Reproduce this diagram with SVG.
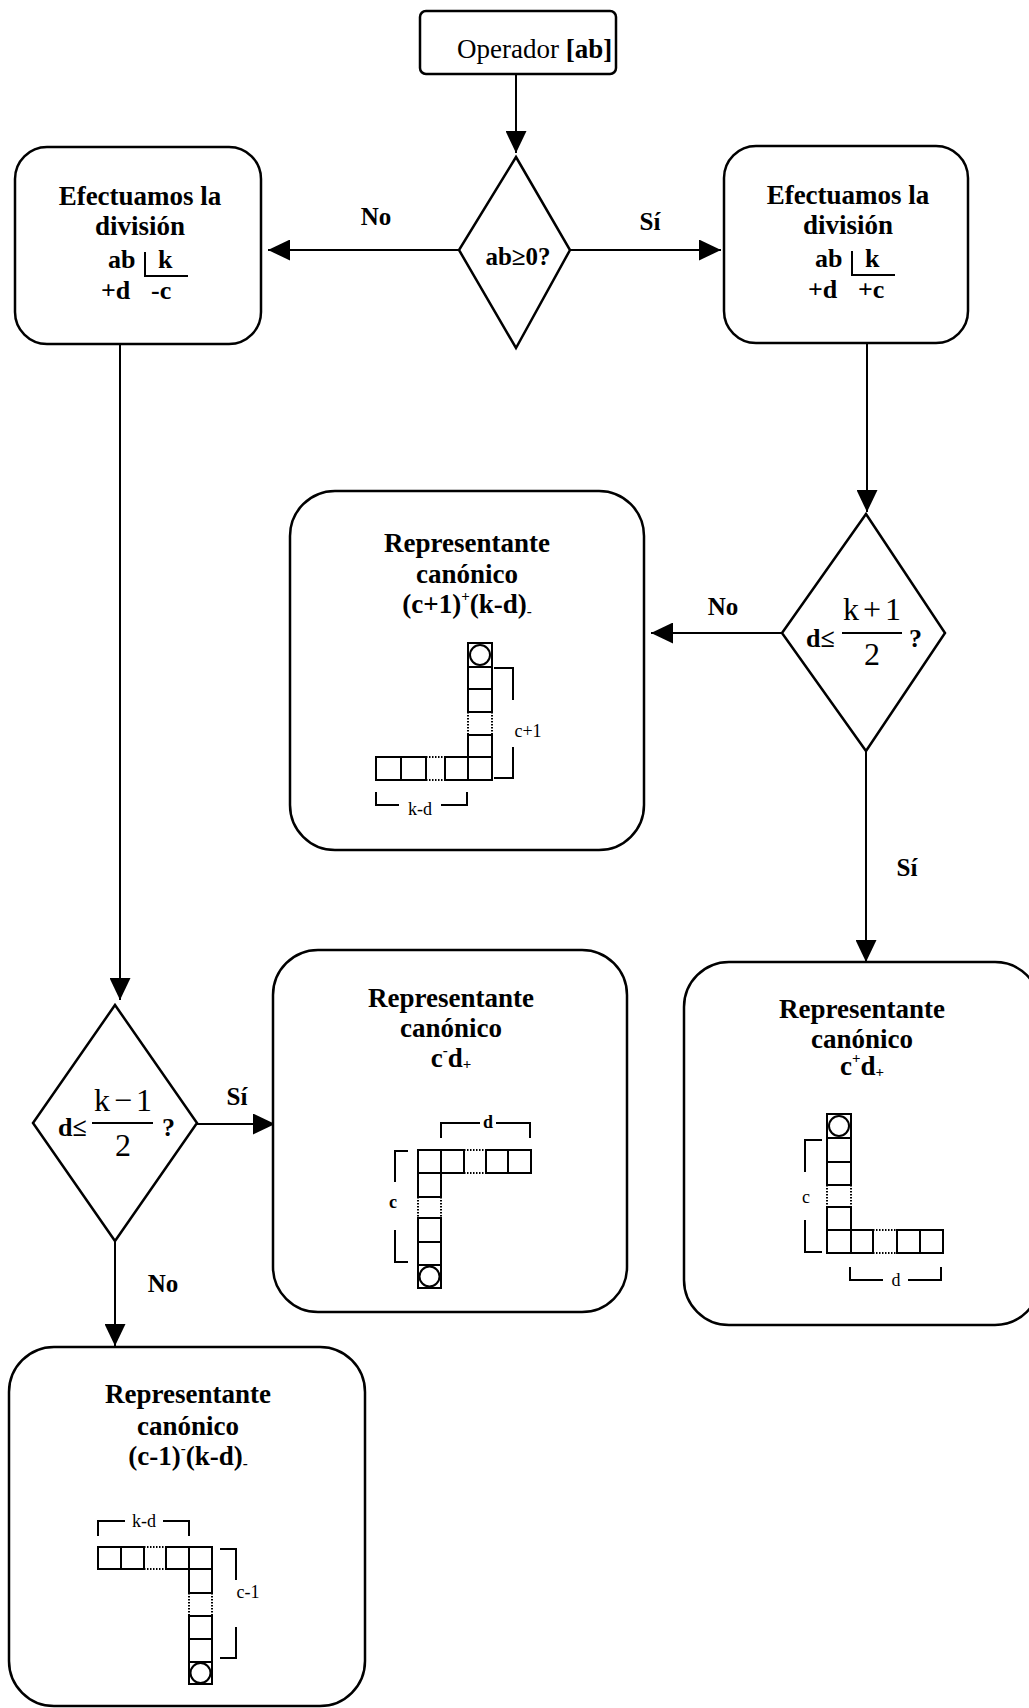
<svg xmlns="http://www.w3.org/2000/svg" width="1029" height="1708" viewBox="0 0 1029 1708">
<defs>
<marker id="ah" viewBox="0 0 22 21" refX="22" refY="10.5" markerWidth="22" markerHeight="21" markerUnits="userSpaceOnUse" orient="auto"><path d="M0,0 L22,10.5 L0,21 z" fill="#000"/></marker>
<style>
.box{fill:#fff;stroke:#000;stroke-width:2.5}
.dia{fill:#fff;stroke:#000;stroke-width:2.5}
.con{stroke:#000;stroke-width:2;fill:none;marker-end:url(#ah)}
.ln{stroke:#000;stroke-width:2;fill:none}
.t{font-family:"Liberation Serif","Times New Roman",serif;fill:#000}
.title{font-size:27px;font-weight:bold;text-anchor:middle}
.lab{font-size:25px;font-weight:bold;text-anchor:middle}
.bt{font-size:26px;font-weight:bold}
.sm{font-size:18px;text-anchor:middle}
.smb{font-size:18px;font-weight:bold;text-anchor:middle}
.frac{font-size:32px;text-anchor:middle}
.sq{fill:none;stroke:#000;stroke-width:2}
.dot{fill:none;stroke:#000;stroke-width:2;stroke-dasharray:1.5 1.5}
</style>
</defs>
<rect width="1029" height="1708" fill="#fff"/>

<g id="connectors">
<path class="con" d="M516,75 V153"/>
<path class="con" d="M459,250 H268"/>
<path class="con" d="M570,250 H721"/>
<path class="con" d="M120,344 V1000"/>
<path class="con" d="M867,343 V512"/>
<path class="con" d="M782,633 H651"/>
<path class="con" d="M866,751 V962"/>
<path class="con" d="M197,1124 H275"/>
<path class="con" d="M115,1241 V1346"/>
<text class="t lab" x="376" y="225">No</text>
<text class="t lab" x="650" y="230">Sí</text>
<text class="t lab" x="723" y="615">No</text>
<text class="t lab" x="907" y="876">Sí</text>
<text class="t lab" x="237" y="1105">Sí</text>
<text class="t lab" x="163" y="1292">No</text>
</g>

<g id="n-operador">
<rect class="box" x="420" y="11" width="196" height="63" rx="6"/>
<text class="t" x="457" y="58" font-size="27">Operador <tspan font-weight="bold">[ab]</tspan></text>
</g>

<g id="n-decision-ab">
<polygon class="dia" points="516,157 570,250 516,348 459,250"/>
<text class="t lab" x="518" y="265" font-size="26">ab≥0?</text>
</g>

<g id="n-division-neg">
<rect class="box" x="15" y="147" width="246" height="197" rx="32"/>
<text class="t title" x="140" y="205">Efectuamos la</text>
<text class="t title" x="140" y="235">división</text>
<text class="t bt" x="108" y="268">ab</text>
<text class="t bt" x="158" y="268">k</text>
<path class="ln" d="M145,252 V276 H188"/>
<text class="t bt" x="101" y="299">+d</text>
<text class="t bt" x="151" y="299">-c</text>
</g>

<g id="n-division-pos">
<rect class="box" x="724" y="146" width="244" height="197" rx="32"/>
<text class="t title" x="848" y="204">Efectuamos la</text>
<text class="t title" x="848" y="234">división</text>
<text class="t bt" x="815" y="267">ab</text>
<text class="t bt" x="865" y="267">k</text>
<path class="ln" d="M852,251 V275 H895"/>
<text class="t bt" x="808" y="298">+d</text>
<text class="t bt" x="858" y="298">+c</text>
</g>

<g id="n-decision-kplus">
<polygon class="dia" points="866,514 945,633 866,751 782,633"/>
<text class="t bt" x="806" y="647" font-size="25">d≤</text>
<text class="t frac" x="872" y="620" textLength="58">k + 1</text>
<path class="ln" d="M842,633 H902"/>
<text class="t frac" x="872" y="665">2</text>
<text class="t bt" x="909" y="647" font-size="25">?</text>
</g>

<g id="n-rep-c1-kd">
<rect class="box" x="290" y="491" width="354" height="359" rx="45"/>
<text class="t title" x="467" y="552">Representante</text>
<text class="t title" x="467" y="583">canónico</text>
<text class="t title" x="467" y="613">(c+1)<tspan font-size="15" dy="-12">+</tspan><tspan dy="12">(k-d)</tspan><tspan font-size="15" dy="3">-</tspan></text>
<rect class="sq" x="468" y="643" width="24" height="24"/>
<circle class="sq" cx="480" cy="655" r="10"/>
<rect class="sq" x="468" y="667" width="24" height="22"/>
<rect class="sq" x="468" y="689" width="24" height="23"/>
<path class="dot" d="M468,712 V735 M492,712 V735"/>
<rect class="sq" x="468" y="735" width="24" height="22"/>
<rect class="sq" x="468" y="757" width="24" height="23"/>
<rect class="sq" x="376" y="757" width="25" height="23"/>
<rect class="sq" x="401" y="757" width="25" height="23"/>
<path class="dot" d="M426,757 H445 M426,780 H445"/>
<rect class="sq" x="445" y="757" width="23" height="23"/>
<path class="ln" d="M494,668 H513 V700 M513,747 V778 H494"/>
<text class="t sm" x="528" y="737">c+1</text>
<path class="ln" d="M376,792 V805 H399 M441,805 H467 V792"/>
<text class="t sm" x="420" y="815">k-d</text>
</g>

<g id="n-rep-c-d-pos">
<rect class="box" x="684" y="962" width="356" height="363" rx="45"/>
<text class="t title" x="862" y="1018">Representante</text>
<text class="t title" x="862" y="1048">canónico</text>
<text class="t title" x="862" y="1075">c<tspan font-size="15" dy="-12">+</tspan><tspan dy="12">d</tspan><tspan font-size="15" dy="2">+</tspan></text>
<rect class="sq" x="827" y="1114" width="24" height="24"/>
<circle class="sq" cx="839" cy="1126" r="10"/>
<rect class="sq" x="827" y="1138" width="24" height="24"/>
<rect class="sq" x="827" y="1162" width="24" height="23"/>
<path class="dot" d="M827,1185 V1207 M851,1185 V1207"/>
<rect class="sq" x="827" y="1207" width="24" height="23"/>
<rect class="sq" x="827" y="1230" width="24" height="23"/>
<rect class="sq" x="851" y="1230" width="22" height="23"/>
<path class="dot" d="M873,1230 H897 M873,1253 H897"/>
<rect class="sq" x="897" y="1230" width="23" height="23"/>
<rect class="sq" x="920" y="1230" width="23" height="23"/>
<path class="ln" d="M822,1140 H805 V1172 M805,1220 V1252 H822"/>
<text class="t sm" x="806" y="1203">c</text>
<path class="ln" d="M850,1267 V1280 H883 M908,1280 H941 V1267"/>
<text class="t sm" x="896" y="1286">d</text>
</g>

<g id="n-decision-kminus">
<polygon class="dia" points="115,1005 197,1123 115,1241 33,1123"/>
<text class="t bt" x="58" y="1136" font-size="25">d≤</text>
<text class="t frac" x="123" y="1111" textLength="58">k − 1</text>
<path class="ln" d="M92,1123 H153"/>
<text class="t frac" x="123" y="1156">2</text>
<text class="t bt" x="162" y="1136" font-size="25">?</text>
</g>

<g id="n-rep-c-neg-d-pos">
<rect class="box" x="273" y="950" width="354" height="362" rx="45"/>
<text class="t title" x="451" y="1007">Representante</text>
<text class="t title" x="451" y="1037">canónico</text>
<text class="t title" x="451" y="1067">c<tspan font-size="15" dy="-12">-</tspan><tspan dy="12">d</tspan><tspan font-size="15" dy="2">+</tspan></text>
<rect class="sq" x="418" y="1150" width="23" height="23"/>
<rect class="sq" x="441" y="1150" width="23" height="23"/>
<path class="dot" d="M464,1150 H486 M464,1173 H486"/>
<rect class="sq" x="486" y="1150" width="22" height="23"/>
<rect class="sq" x="508" y="1150" width="23" height="23"/>
<rect class="sq" x="418" y="1173" width="23" height="24"/>
<path class="dot" d="M418,1197 V1218 M441,1197 V1218"/>
<rect class="sq" x="418" y="1218" width="23" height="24"/>
<rect class="sq" x="418" y="1242" width="23" height="23"/>
<rect class="sq" x="418" y="1265" width="23" height="23"/>
<circle class="sq" cx="429.5" cy="1276.5" r="10"/>
<path class="ln" d="M408,1151 H395 V1182 M395,1230 V1262 H408"/>
<text class="t smb" x="393" y="1208">c</text>
<path class="ln" d="M441,1138 V1123 H480 M496,1123 H530 V1138"/>
<text class="t smb" x="488" y="1128">d</text>
</g>

<g id="n-rep-c1-neg-kd">
<rect class="box" x="9" y="1347" width="356" height="359" rx="45"/>
<text class="t title" x="188" y="1403">Representante</text>
<text class="t title" x="188" y="1435">canónico</text>
<text class="t title" x="188" y="1465">(c-1)<tspan font-size="15" dy="-12">-</tspan><tspan dy="12">(k-d)</tspan><tspan font-size="15" dy="3">-</tspan></text>
<rect class="sq" x="98" y="1547" width="23" height="22"/>
<rect class="sq" x="121" y="1547" width="23" height="22"/>
<path class="dot" d="M144,1547 H166 M144,1569 H166"/>
<rect class="sq" x="166" y="1547" width="23" height="22"/>
<rect class="sq" x="189" y="1547" width="23" height="22"/>
<rect class="sq" x="189" y="1569" width="23" height="24"/>
<path class="dot" d="M189,1593 V1616 M212,1593 V1616"/>
<rect class="sq" x="189" y="1616" width="23" height="23"/>
<rect class="sq" x="189" y="1639" width="23" height="23"/>
<rect class="sq" x="189" y="1662" width="23" height="22"/>
<circle class="sq" cx="200.5" cy="1673" r="10"/>
<path class="ln" d="M98,1536 V1521 H125 M163,1521 H189 V1536"/>
<text class="t sm" x="144" y="1527">k-d</text>
<path class="ln" d="M220,1549 H236 V1580 M236,1627 V1658 H220"/>
<text class="t sm" x="248" y="1598">c-1</text>
</g>
</svg>
